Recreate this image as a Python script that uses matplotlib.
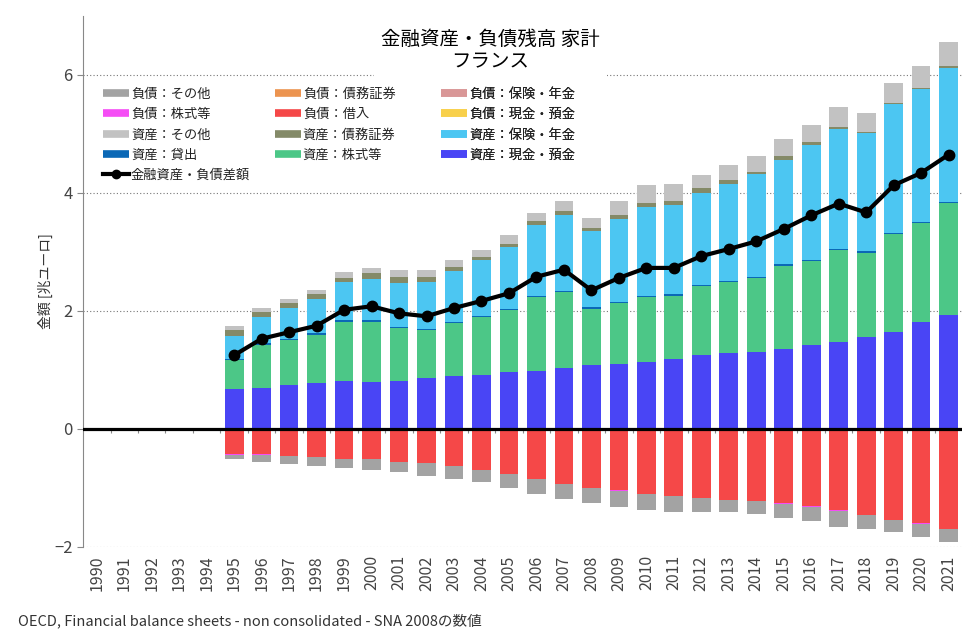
import numpy as np
import matplotlib
matplotlib.use('Agg')
import matplotlib.pyplot as plt
from matplotlib.lines import Line2D

plt.rcParams['font.family'] = ['Noto Sans CJK JP', 'DejaVu Sans']

years = list(range(1990, 2022))
nan = np.nan
pad = [0.0] * 5  # 1990-1994: no data

# assets [trillion EUR]
a_cash = pad + [0.68, 0.69, 0.75, 0.78, 0.81, 0.79, 0.81, 0.86, 0.90, 0.92, 0.97, 0.99, 1.03, 1.08,
                1.10, 1.13, 1.19, 1.25, 1.28, 1.31, 1.36, 1.42, 1.47, 1.56, 1.64, 1.81, 1.94]
a_equity = pad + [0.49, 0.74, 0.76, 0.82, 1.01, 1.03, 0.90, 0.82, 0.89, 0.97, 1.05, 1.24, 1.29, 0.96,
                  1.04, 1.10, 1.07, 1.17, 1.21, 1.25, 1.41, 1.42, 1.56, 1.43, 1.67, 1.68, 1.89]
a_loans = pad + [0.02] * 27
a_insurance = pad + [0.38, 0.45, 0.52, 0.59, 0.65, 0.71, 0.75, 0.79, 0.87, 0.95, 1.04, 1.20, 1.29, 1.29,
                     1.40, 1.51, 1.52, 1.56, 1.65, 1.75, 1.77, 1.96, 2.03, 2.00, 2.17, 2.25, 2.27]
a_debt = pad + [0.10, 0.09, 0.09, 0.08, 0.07, 0.09, 0.09, 0.08, 0.06, 0.06, 0.06, 0.07, 0.07, 0.06,
                0.07, 0.07, 0.07, 0.08, 0.06, 0.03, 0.06, 0.05, 0.04, 0.02, 0.02, 0.02, 0.03]
a_other = pad + [0.08, 0.06, 0.07, 0.07, 0.10, 0.09, 0.12, 0.12, 0.12, 0.12, 0.14, 0.14, 0.16, 0.17,
                 0.24, 0.30, 0.29, 0.23, 0.25, 0.26, 0.29, 0.29, 0.33, 0.32, 0.34, 0.37, 0.41]

# liabilities (shown negative)
l_cash = pad + [0.0] * 27
l_loans = pad + [0.43, 0.43, 0.45, 0.47, 0.51, 0.51, 0.56, 0.58, 0.62, 0.69, 0.76, 0.84, 0.93, 1.00,
                 1.04, 1.10, 1.14, 1.17, 1.20, 1.22, 1.26, 1.31, 1.38, 1.45, 1.54, 1.60, 1.69]
l_equity = pad + [0.004] * 27
l_insurance = pad + [0.0] * 27
l_debt = pad + [0.0] * 27
l_other = pad + [0.07, 0.12, 0.14, 0.15, 0.15, 0.18, 0.17, 0.21, 0.22, 0.21, 0.23, 0.25, 0.25, 0.25,
                 0.27, 0.27, 0.26, 0.23, 0.21, 0.22, 0.25, 0.24, 0.27, 0.24, 0.21, 0.22, 0.22]

net = [nan] * 5 + [1.25, 1.53, 1.64, 1.75, 2.02, 2.08, 1.96, 1.91, 2.05, 2.17, 2.30, 2.58, 2.70, 2.35,
                   2.56, 2.73, 2.73, 2.93, 3.05, 3.18, 3.39, 3.62, 3.82, 3.67, 4.13, 4.34, 4.65]

colors = {
    'l_other': '#a3a3a3', 'l_debt': '#ec9450', 'l_insurance': '#d99797',
    'l_equity': '#f54df5', 'l_loans': '#f54848', 'l_cash': '#f8d04b',
    'a_other': '#c2c2c2', 'a_debt': '#848a68', 'a_insurance': '#4cc6f2',
    'a_loans': '#0b68b6', 'a_equity': '#4cc787', 'a_cash': '#4945f5',
}

x = np.arange(len(years))
w = 0.68

fig = plt.figure(figsize=(9.77, 6.39), dpi=100)
ax = fig.add_axes([0.085, 0.144, 0.900, 0.831])

# positive stack
bottom = np.zeros(len(years))
for key, vals in [('a_cash', a_cash), ('a_equity', a_equity), ('a_loans', a_loans),
                  ('a_insurance', a_insurance), ('a_debt', a_debt), ('a_other', a_other)]:
    v = np.array(vals)
    ax.bar(x, v, w, bottom=bottom, color=colors[key], zorder=2)
    bottom += v

# negative stack
bottom = np.zeros(len(years))
for key, vals in [('l_cash', l_cash), ('l_loans', l_loans), ('l_equity', l_equity),
                  ('l_insurance', l_insurance), ('l_debt', l_debt), ('l_other', l_other)]:
    v = -np.array(vals)
    ax.bar(x, v, w, bottom=bottom, color=colors[key], zorder=2)
    bottom += v

ax.axhline(0, color='black', lw=2.3, zorder=3)
# small separators below the zero line
ax.vlines(x[:-1] + 0.5, -0.07, 0, color='#888888', lw=0.8, zorder=1)

ax.plot(x, net, color='black', lw=3, marker='o', ms=7.5, zorder=4)

ax.set_xlim(-0.5, len(years) - 0.5)
ax.set_ylim(-2, 7)
ax.set_yticks([-2, 0, 2, 4, 6])
ax.set_xticks(x)
ax.set_xticklabels([str(y) for y in years], rotation=90, fontsize=11.5, color='#444444')
ax.tick_params(axis='x', length=0, pad=6)
ax.tick_params(axis='y', labelsize=12, colors='#444444', length=4, color='#888888')
ax.yaxis.grid(True, linestyle=(0, (1, 2)), color='#777777', lw=0.8)
ax.set_axisbelow(True)
for s in ['top', 'right', 'bottom']:
    ax.spines[s].set_visible(False)
ax.spines['left'].set_color('#888888')
ax.set_ylabel('金額 [兆ユーロ]', fontsize=10, color='#333333', labelpad=1)

# legend laid out as three fixed columns
labels = ['負債：その他', '負債：債務証券', '負債：保険・年金',
          '負債：株式等', '負債：借入', '負債：現金・預金',
          '資産：その他', '資産：債務証券', '資産：保険・年金',
          '資産：貸出', '資産：株式等', '資産：現金・預金']
keys = ['l_other', 'l_debt', 'l_insurance', 'l_equity', 'l_loans', 'l_cash',
        'a_other', 'a_debt', 'a_insurance', 'a_loans', 'a_equity', 'a_cash']
handles = [Line2D([], [], color=colors[k], lw=5.5, solid_capstyle='butt') for k in keys]
net_handle = Line2D([], [], color='black', lw=3, marker='o', ms=6)

col_x = [0.105, 0.281, 0.451]
for c in range(3):
    hs = handles[c::3]
    ls = labels[c::3]
    if c == 0:
        hs = hs + [net_handle]
        ls = ls + ['金融資産・負債差額']
    leg = ax.legend(hs, ls, loc='upper left', bbox_to_anchor=(col_x[c], 0.863),
                    bbox_transform=fig.transFigure, frameon=False, fontsize=9.5,
                    handlelength=2.0, handletextpad=0.15, labelspacing=0.56,
                    borderpad=0, borderaxespad=0)
    for t in leg.get_texts():
        t.set_color('#222222')
    ax.add_artist(leg)

fig.text(0.502, 0.921, '金融資産・負債残高 家計\nフランス', ha='center', va='center',
         fontsize=14, color='black', linespacing=1.1, zorder=5,
         bbox=dict(facecolor='white', edgecolor='none', pad=5))

fig.text(0.018, 0.028, 'OECD, Financial balance sheets - non consolidated - SNA 2008の数値',
         fontsize=10.5, color='#333333', va='center')

fig.savefig('out.png', dpi=100)
